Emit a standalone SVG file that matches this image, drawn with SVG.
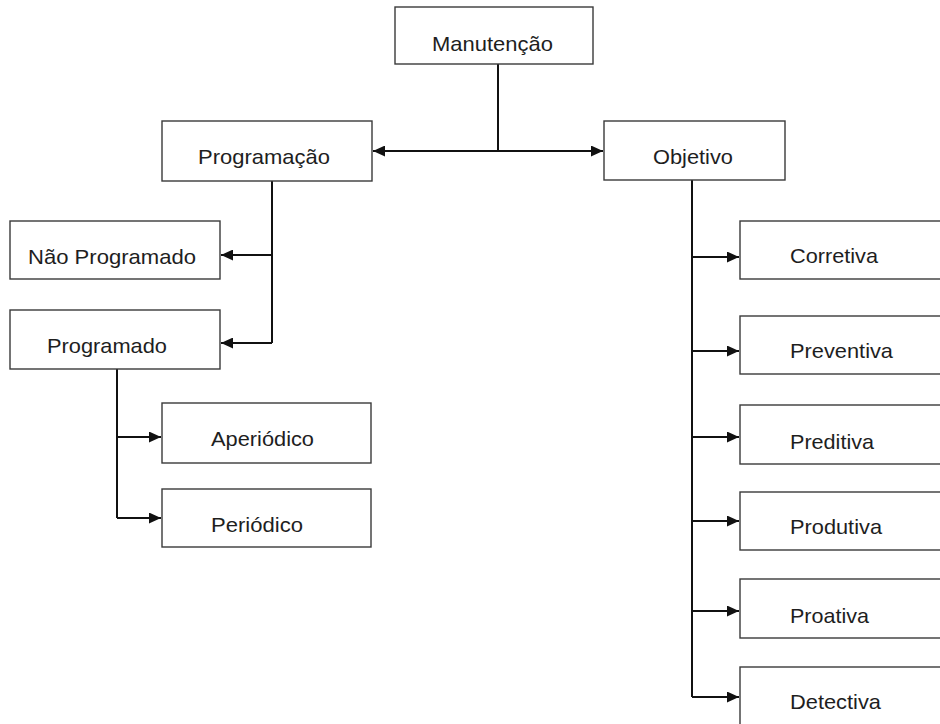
<svg xmlns="http://www.w3.org/2000/svg" width="940" height="724" viewBox="0 0 940 724">
  <style>
    .box { fill: #ffffff; stroke: #3a3a3a; stroke-width: 1.4; }
    .lbl { font-family: "Liberation Sans", Arial, sans-serif; font-size: 21px; fill: #1e1e1e; }
    .wire { fill: none; stroke: #111111; stroke-width: 2; }
    .arr { marker-end: url(#head); }
  </style>
  <defs>
    <marker id="head" markerUnits="userSpaceOnUse" markerWidth="13" markerHeight="11" refX="12" refY="5.5" orient="auto">
      <path d="M0,0 L12,5.5 L0,11 Z" fill="#111111"/>
    </marker>
  </defs>
  <rect width="940" height="724" fill="#ffffff"/>

  <!-- connectors -->
  <g id="connectors">
    <path class="wire" d="M498,64 V151"/>
    <path class="wire arr" d="M498,151 H373"/>
    <path class="wire arr" d="M498,151 H603"/>

    <path class="wire" d="M272,181 V343"/>
    <path class="wire arr" d="M272,255 H221"/>
    <path class="wire arr" d="M272,343 H221"/>

    <path class="wire" d="M117,369 V518"/>
    <path class="wire arr" d="M117,437 H161"/>
    <path class="wire arr" d="M117,518 H161"/>

    <path class="wire" d="M692,180 V697"/>
    <path class="wire arr" d="M692,257 H739"/>
    <path class="wire arr" d="M692,351 H739"/>
    <path class="wire arr" d="M692,437 H739"/>
    <path class="wire arr" d="M692,521 H739"/>
    <path class="wire arr" d="M692,611 H739"/>
    <path class="wire arr" d="M692,697 H739"/>
  </g>

  <!-- nodes -->
  <g id="manutencao">
    <rect class="box" x="395" y="7" width="198" height="57"/>
    <text class="lbl" x="432" y="51" textLength="121" lengthAdjust="spacingAndGlyphs">Manutenção</text>
  </g>
  <g id="programacao">
    <rect class="box" x="162" y="121" width="210" height="60"/>
    <text class="lbl" x="198" y="164" textLength="132" lengthAdjust="spacingAndGlyphs">Programação</text>
  </g>
  <g id="objetivo">
    <rect class="box" x="604" y="121" width="181" height="59"/>
    <text class="lbl" x="653" y="164" textLength="80" lengthAdjust="spacingAndGlyphs">Objetivo</text>
  </g>
  <g id="nao-programado">
    <rect class="box" x="10" y="221" width="210" height="58"/>
    <text class="lbl" x="28" y="264" textLength="168" lengthAdjust="spacingAndGlyphs">Não Programado</text>
  </g>
  <g id="programado">
    <rect class="box" x="10" y="310" width="210" height="59"/>
    <text class="lbl" x="47" y="353" textLength="120" lengthAdjust="spacingAndGlyphs">Programado</text>
  </g>
  <g id="aperiodico">
    <rect class="box" x="162" y="403" width="209" height="60"/>
    <text class="lbl" x="211" y="446" textLength="103" lengthAdjust="spacingAndGlyphs">Aperiódico</text>
  </g>
  <g id="periodico">
    <rect class="box" x="162" y="489" width="209" height="58"/>
    <text class="lbl" x="211" y="532" textLength="92" lengthAdjust="spacingAndGlyphs">Periódico</text>
  </g>
  <g id="corretiva">
    <rect class="box" x="740" y="221" width="210" height="58"/>
    <text class="lbl" x="790" y="263" textLength="88" lengthAdjust="spacingAndGlyphs">Corretiva</text>
  </g>
  <g id="preventiva">
    <rect class="box" x="740" y="316" width="210" height="58"/>
    <text class="lbl" x="790" y="358" textLength="103" lengthAdjust="spacingAndGlyphs">Preventiva</text>
  </g>
  <g id="preditiva">
    <rect class="box" x="740" y="405" width="210" height="59"/>
    <text class="lbl" x="790" y="449" textLength="84" lengthAdjust="spacingAndGlyphs">Preditiva</text>
  </g>
  <g id="produtiva">
    <rect class="box" x="740" y="492" width="210" height="58"/>
    <text class="lbl" x="790" y="534" textLength="92" lengthAdjust="spacingAndGlyphs">Produtiva</text>
  </g>
  <g id="proativa">
    <rect class="box" x="740" y="579" width="210" height="59"/>
    <text class="lbl" x="790" y="623" textLength="79" lengthAdjust="spacingAndGlyphs">Proativa</text>
  </g>
  <g id="detectiva">
    <rect class="box" x="740" y="667" width="210" height="70"/>
    <text class="lbl" x="790" y="709" textLength="91" lengthAdjust="spacingAndGlyphs">Detectiva</text>
  </g>
</svg>
